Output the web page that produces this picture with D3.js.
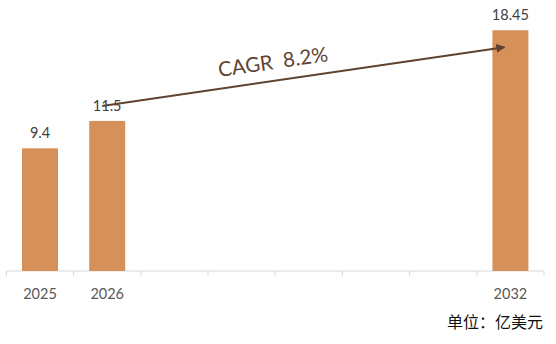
<!DOCTYPE html>
<html><head><meta charset="utf-8">
<script src="https://cdn.jsdelivr.net/npm/d3@7/dist/d3.min.js"></script>
<style>body{margin:0;background:#fff}svg{display:block}</style>
</head><body>
<svg id="c" width="556" height="344"></svg>
<script>
const categories = ["2025","2026","2027","2028","2029","2030","2031","2032"];
const tickLabels = ["2025","2026","","","","","","2032"];
const barYears = ["2025","2026","2032"];
const values = [9.4, 11.5, 18.45];
const valueLabels = ["9.4","11.5","18.45"];
const cagrText = "CAGR  8.2%";
const unitText = "单位：亿美元";

const svg = d3.select("#c");
const W = 556, H = 344;
const m = {left: 6.4, right: 12, top: 10, bottom: 73};
const band = d3.scaleBand().domain(categories).range([m.left, W - m.right]);
const y = d3.scaleLinear().domain([0, 20]).range([H - m.bottom, m.top]);

const g = svg.append("g");
g.append("line").attr("x1", m.left).attr("x2", W - m.right).attr("y1", y(0)).attr("y2", y(0))
  .attr("stroke", "#d9d9d9").attr("stroke-width", 1);
const bounds = categories.map(c => band(c)).concat([W - m.right]);
g.selectAll("line.tk").data(bounds).enter().append("line").attr("class","tk")
  .attr("x1", d => d).attr("x2", d => d).attr("y1", y(0)).attr("y2", y(0) + 5)
  .attr("stroke", "#d9d9d9");

g.selectAll("text.tl").data(categories).enter().append("text").attr("class","tl")
  .attr("x", d => band(d) + band.bandwidth()/2).attr("y", y(0) + 28)
  .attr("text-anchor","middle").attr("font-family","Lato, 'Open Sans', sans-serif").attr("font-size", 14.5)
  .attr("fill","#595959").text((d,i) => tickLabels[i]);

const data = barYears.map((c,i) => ({c, v: values[i], l: valueLabels[i]}));
svg.selectAll("rect.bar").data(data).enter().append("rect").attr("class","bar")
  .attr("x", d => band(d.c) + band.bandwidth()/2 - 18).attr("width", 36)
  .attr("y", d => y(d.v)).attr("height", d => y(0) - y(d.v)).attr("fill", "#d6915a");

svg.selectAll("text.vl").data(data).enter().append("text").attr("class","vl")
  .attr("x", d => band(d.c) + band.bandwidth()/2).attr("y", d => y(d.v) - 10)
  .attr("text-anchor","middle").attr("font-family","Lato, 'Open Sans', sans-serif").attr("font-size", 14.5)
  .attr("fill","#404040").text(d => d.l);

const x0 = band("2026") + band.bandwidth()/2 - 5, y0 = y(values[1]) - 15;
const x1 = band("2032") + band.bandwidth()/2 - 6, y1 = y(values[2]) + 17;
const defs = svg.append("defs");
defs.append("marker").attr("id","ah").attr("viewBox","0 0 10 10").attr("refX",9).attr("refY",5)
  .attr("markerWidth",4.5).attr("markerHeight",4.5).attr("orient","auto")
  .append("path").attr("d","M0,0 L10,5 L0,10 z").attr("fill","#5e4330");
svg.append("line").attr("x1",x0).attr("y1",y0).attr("x2",x1).attr("y2",y1)
  .attr("stroke","#5e4330").attr("stroke-width",2).attr("marker-end","url(#ah)");
const ang = Math.atan2(y1 - y0, x1 - x0) * 180 / Math.PI;
svg.append("text").attr("transform", `translate(274,69) rotate(${ang})`)
  .attr("text-anchor","middle").attr("font-family","Lato, 'Open Sans', sans-serif").attr("font-size", 20.5)
  .attr("fill","#5e4330").style("white-space","pre").text(cagrText);

svg.append("text").attr("x", W - 13).attr("y", 328).attr("text-anchor","end")
  .attr("font-family","'Noto Sans CJK SC', sans-serif").attr("font-size", 16).attr("fill","#111").text(unitText);
</script>
</body></html>
